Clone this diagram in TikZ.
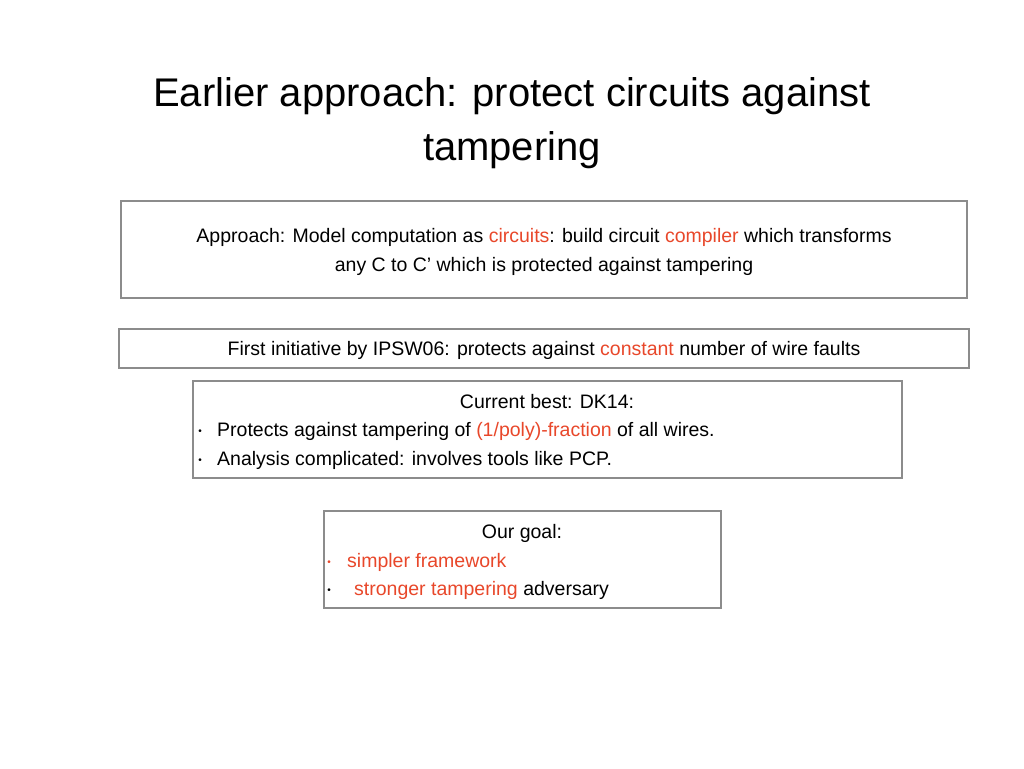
\documentclass[tikz,border=0pt]{standalone}
\usepackage{fontspec}
\setmainfont{Liberation Sans}
\definecolor{hl}{HTML}{E8472A}
\definecolor{bx}{HTML}{8C8C8C}
\begin{document}
\begin{tikzpicture}[x=1pt,y=-1pt,
  box/.style={draw=bx,line width=1.6pt},
  txt/.style={inner sep=0pt,font=\fontsize{19.5}{23}\selectfont},
  ttl/.style={inner sep=0pt,font=\fontsize{40}{46}\selectfont}]
\useasboundingbox (0,0) rectangle (1024,768);
\node[ttl] (t1) at (512,96) {Earlier approach: protect circuits against};
\node[ttl] (t2) at (512,150) {tampering};
\draw[box] (121,201) rectangle (967,298);
\node[txt] (a1) at (544,237) {Approach: Model computation as \textcolor{hl}{circuits}: build circuit \textcolor{hl}{compiler} which transforms};
\node[txt] (a2) at (544,266) {any C to C’ which is protected against tampering};
\draw[box] (119,329) rectangle (969,368);
\node[txt] (b1) at (544,350) {First initiative by IPSW06: protects against \textcolor{hl}{constant} number of wire faults};
\draw[box] (193,381) rectangle (902,478);
\node[txt] (c1) at (547,402) {Current best: DK14:};
\node[txt,anchor=west] (c2) at (217,431) {Protects against tampering of \textcolor{hl}{(1/poly)-fraction} of all wires.};
\node[txt,anchor=west] (c3) at (217,460) {Analysis complicated: involves tools like PCP.};
\node[txt,font=\fontsize{10}{12}\selectfont] (cb1) at (200,432) {•};
\node[txt,font=\fontsize{10}{12}\selectfont] (cb2) at (200,461) {•};
\draw[box] (324,511) rectangle (721,608);
\node[txt] (d1) at (522,533) {Our goal:};
\node[txt,anchor=west] (d2) at (347,562) {\textcolor{hl}{simpler framework}};
\node[txt,anchor=west] (d3) at (354,590) {\textcolor{hl}{stronger tampering} adversary};
\node[txt,font=\fontsize{10}{12}\selectfont,text=hl] (db1) at (329,563) {•};
\node[txt,font=\fontsize{10}{12}\selectfont] (db2) at (329,591) {•};
\end{tikzpicture}
\end{document}
